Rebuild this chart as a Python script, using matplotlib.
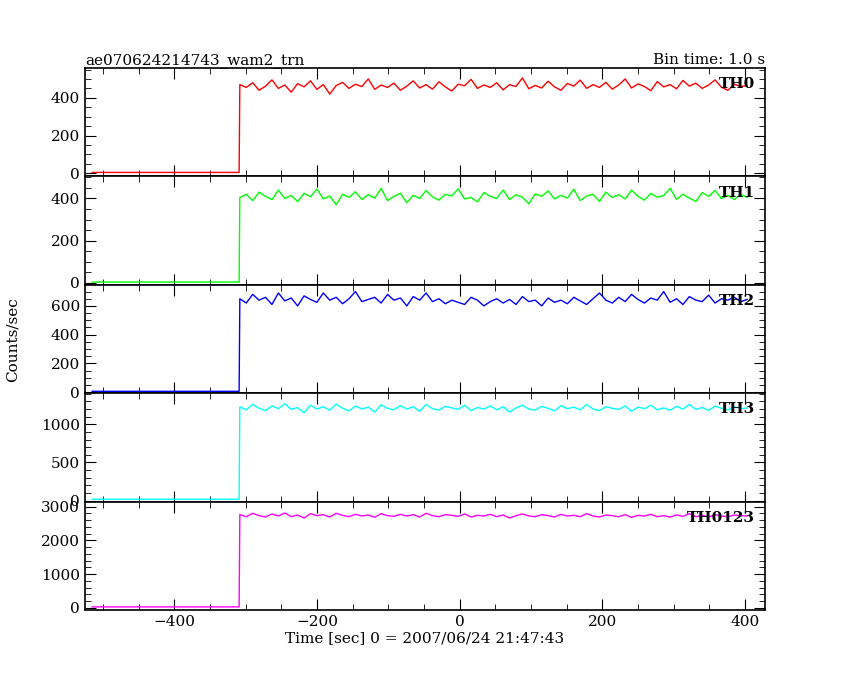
import numpy as np
import matplotlib
matplotlib.use("Agg")
import matplotlib.pyplot as plt
from matplotlib.ticker import MultipleLocator

plt.rcParams['font.family'] = ['DejaVu Serif']

title = "ae070624214743_wam2_trn"
bintime = "Bin time: 1.0 s"
names = ["TH0", "TH1", "TH2", "TH3", "TH0123"]
colors = ["#ff0000", "#00ff00", "#0000ff", "#00ffff", "#ff00ff"]
onset = -309
t_start = -515
t_post = np.arange(-308, 406, 9)
pre_level = [5, 3, 6, 18, 32]

th0 = [470,455,480,440,462,495,450,468,430,475,458,490,445,470,420,465,482,450,472,460,
       500,445,468,455,478,440,462,490,452,470,446,485,458,436,472,464,498,450,468,455,
       480,442,470,460,505,448,466,452,488,458,440,476,462,494,450,470,455,482,446,468,
       500,452,474,460,438,486,458,470,448,492,462,478,450,468,495,456,440,472,460,465]
th1 = [405,420,390,430,410,395,440,400,415,385,425,408,445,398,412,370,420,405,432,395,
       418,402,448,390,410,425,380,415,400,438,408,392,420,412,446,398,405,384,428,410,
       400,440,395,418,406,375,422,410,436,398,415,402,444,390,412,420,386,430,405,418,
       398,440,410,392,424,406,414,448,396,420,402,386,428,410,438,400,415,395,420,405]
th2 = [650,620,680,640,660,610,690,635,655,600,670,645,625,690,640,660,615,650,700,630,
       645,660,620,680,640,655,600,665,640,690,630,650,615,640,625,610,660,640,600,630,
       650,620,645,610,665,630,640,600,655,625,640,615,660,635,610,650,690,640,620,660,
       630,680,645,620,655,640,700,625,650,610,665,640,630,675,620,650,640,660,630,645]
th3 = [1230,1190,1260,1210,1180,1240,1205,1270,1195,1220,1150,1250,1200,1230,1185,1265,1210,1175,1240,1200,
       1225,1160,1255,1210,1190,1245,1200,1230,1170,1260,1205,1185,1235,1215,1195,1250,1180,1220,1200,1240,
       1190,1230,1160,1215,1250,1200,1185,1235,1210,1175,1245,1205,1225,1190,1260,1200,1180,1230,1210,1195,
       1240,1170,1225,1205,1250,1190,1215,1185,1235,1200,1260,1195,1220,1180,1240,1210,1190,1230,1205,1215]
th0123 = [2760,2700,2800,2730,2690,2780,2720,2810,2700,2750,2660,2790,2730,2760,2690,2800,2740,2700,2770,2720,
          2750,2680,2790,2730,2710,2770,2720,2760,2690,2800,2730,2700,2760,2740,2710,2780,2690,2740,2720,2770,
          2700,2750,2660,2730,2780,2720,2700,2760,2730,2690,2770,2720,2740,2700,2790,2720,2690,2750,2730,2700,
          2760,2680,2740,2720,2770,2700,2730,2690,2750,2710,2790,2700,2740,2690,2760,2720,2700,2750,2730,2720]
series = [th0, th1, th2, th3, th0123]

ylims = [(-16, 558), (-10, 505), (-7, 747), (-13, 1408), (-59, 3147)]
ymaj = [200, 200, 200, 500, 1000]
ymin = [50, 50, 50, 100, 200]

fig = plt.figure(figsize=(8.5, 6.8), dpi=100)
left, right, top, bottom = 0.1, 0.9, 0.9, 0.103
h = (top - bottom) / 5
axes = []
for i in range(5):
    ax = fig.add_axes([left, top - (i + 1) * h, right - left, h])
    axes.append(ax)
    n = len(t_post)
    t = np.concatenate([[t_start, onset], t_post])
    y = np.concatenate([[pre_level[i], pre_level[i]], series[i][:n]])
    ax.plot(t, y, color=colors[i], lw=1)
    ax.set_xlim(-525, 428)
    ax.set_ylim(*ylims[i])
    ax.xaxis.set_major_locator(MultipleLocator(200))
    ax.xaxis.set_minor_locator(MultipleLocator(50))
    ax.yaxis.set_major_locator(MultipleLocator(ymaj[i]))
    ax.yaxis.set_minor_locator(MultipleLocator(ymin[i]))
    ax.tick_params(which='both', direction='in', top=True, right=True, labelsize=11)
    ax.tick_params(which='major', length=8)
    ax.tick_params(which='minor', length=4)
    for s in ax.spines.values():
        s.set_linewidth(1.2)
    ax.text(0.985, 0.85, names[i], transform=ax.transAxes, ha='right', va='center',
            fontsize=11, fontweight='bold')
    if i < 4:
        ax.set_xticklabels([])

axes[-1].set_xlabel("Time [sec] 0 = 2007/06/24 21:47:43", fontsize=11, labelpad=2)
fig.text(0.015, 0.5, "Counts/sec", rotation=90, va='center', ha='center', fontsize=11)
axes[0].set_title(title, loc='left', fontsize=11, pad=3)
axes[0].set_title(bintime, loc='right', fontsize=11, pad=3)

fig.savefig("out.png", dpi=100)
